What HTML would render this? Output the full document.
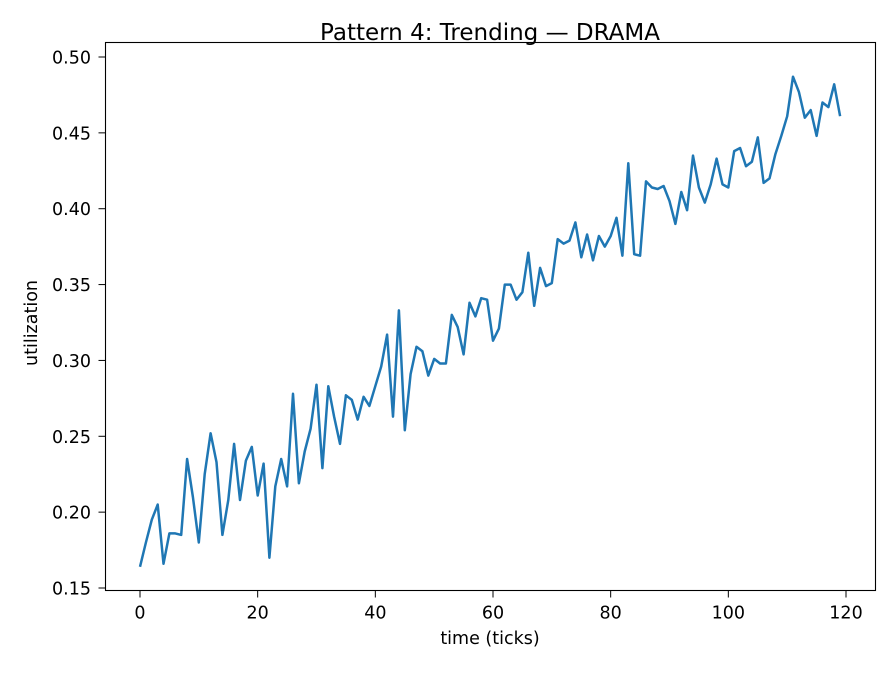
<!DOCTYPE html>
<html><head><meta charset="utf-8"><style>
body{margin:0;background:#fff;}
svg text{font-family:"DejaVu Sans","Liberation Sans",sans-serif;fill:#000;}
</style></head><body>
<svg id="chart" width="896" height="672">
<rect x="0" y="0" width="896" height="672" fill="#fff"/>
<text x="490" y="40" font-size="23" text-anchor="middle">Pattern 4: Trending — DRAMA</text>
<g id="xt"></g>
<g id="yt"></g>
<text x="490" y="644" font-size="17.5" text-anchor="middle">time (ticks)</text>
<text transform="translate(37,323) rotate(-90)" font-size="17.5" text-anchor="middle">utilization</text>
<path id="line" fill="none" stroke="#1f77b4" stroke-width="2.5" stroke-linejoin="round"/>
<rect x="105.5" y="42.5" width="770" height="548" fill="none" stroke="#000" stroke-width="1.1"/>
</svg>
<script>
const values=[0.164,0.180,0.195,0.205,0.166,0.186,0.186,0.185,0.235,0.210,0.180,0.225,0.252,0.233,0.185,0.208,0.245,0.208,0.234,0.243,0.211,0.232,0.170,0.217,0.235,0.217,0.278,0.219,0.240,0.255,0.284,0.229,0.283,0.263,0.245,0.277,0.274,0.261,0.276,0.270,0.283,0.296,0.317,0.263,0.333,0.254,0.291,0.309,0.306,0.290,0.301,0.298,0.298,0.330,0.322,0.304,0.338,0.329,0.341,0.340,0.313,0.321,0.350,0.350,0.340,0.345,0.371,0.336,0.361,0.349,0.351,0.380,0.377,0.379,0.391,0.368,0.383,0.366,0.382,0.375,0.382,0.394,0.369,0.430,0.370,0.369,0.418,0.414,0.413,0.415,0.405,0.390,0.411,0.399,0.435,0.414,0.404,0.416,0.433,0.416,0.414,0.438,0.440,0.428,0.431,0.447,0.417,0.420,0.436,0.448,0.461,0.487,0.477,0.460,0.465,0.448,0.470,0.467,0.482,0.461];
const xTicks=[0,20,40,60,80,100,120];
const yTicks=[0.15,0.20,0.25,0.30,0.35,0.40,0.45,0.50];
const NS="http://www.w3.org/2000/svg";
const xs=i=>140+(846-140)*i/120;
const ys=v=>588-(v-0.15)*(588-57)/0.35;
let d=values.map((v,i)=>(i?"L":"M")+xs(i).toFixed(1)+","+ys(v).toFixed(1)).join("");
document.getElementById("line").setAttribute("d",d);
const xt=document.getElementById("xt"),yt=document.getElementById("yt");
xTicks.forEach(t=>{
 const l=document.createElementNS(NS,"line");
 l.setAttribute("x1",xs(t));l.setAttribute("x2",xs(t));l.setAttribute("y1",590.5);l.setAttribute("y2",597.5);l.setAttribute("stroke","#000");
 
 
 xt.appendChild(l);
 const tx=document.createElementNS(NS,"text");
 tx.setAttribute("x",xs(t));tx.setAttribute("y",618.5);tx.setAttribute("font-size","17.5");tx.setAttribute("text-anchor","middle");tx.textContent=t;
 
 
 xt.appendChild(tx);
});
yTicks.forEach(t=>{
 const l=document.createElementNS(NS,"line");
 l.setAttribute("x1",98.5);l.setAttribute("x2",105.5);l.setAttribute("y1",ys(t));l.setAttribute("y2",ys(t));l.setAttribute("stroke","#000");
 
 
 yt.appendChild(l);
 const tx=document.createElementNS(NS,"text");
 tx.setAttribute("x",91);tx.setAttribute("y",ys(t)+6.5);tx.setAttribute("font-size","17.5");tx.setAttribute("text-anchor","end");tx.textContent=t.toFixed(2);
 
 
 yt.appendChild(tx);
});
</script>
</body></html>
